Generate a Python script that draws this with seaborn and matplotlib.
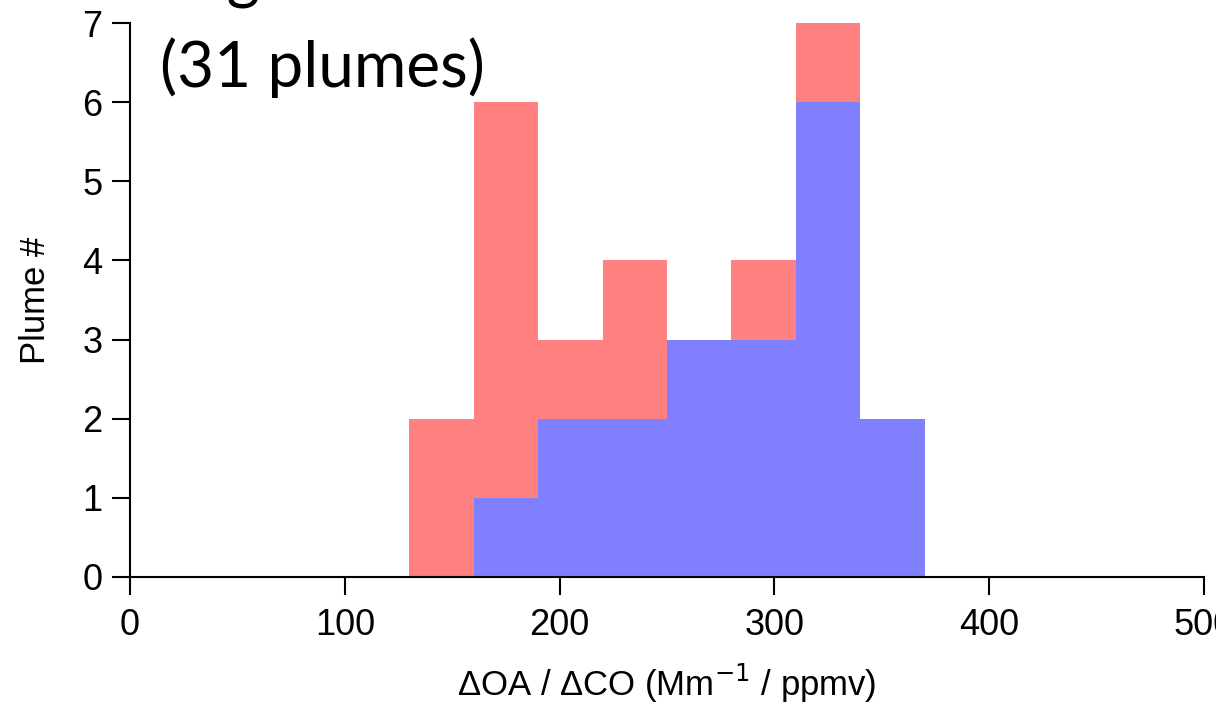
import numpy as np
import pandas as pd
import matplotlib
matplotlib.use("Agg")
import matplotlib.pyplot as plt
import seaborn as sns

# Data
bin_edges = [130, 160, 190, 220, 250, 280, 310, 340, 370]
bin_centers = [145, 175, 205, 235, 265, 295, 325, 355]
all_counts = [2, 6, 3, 4, 3, 4, 7, 2]      # red (all plumes)
sub_counts = [0, 1, 2, 2, 3, 3, 6, 2]      # blue subset
x_ticks = [0, 100, 200, 300, 400, 500]
y_ticks = [0, 1, 2, 3, 4, 5, 6, 7]
title_line1 = "Flight F008"
title_line2 = "(31 plumes)"

sns.set_style("ticks")
plt.rcParams['font.family'] = ['Liberation Sans', 'DejaVu Sans']

fig = plt.figure(figsize=(12.16, 7.11), dpi=100)
ax = fig.add_axes([0.107, 0.1885, 0.883, 0.779])

df_all = pd.DataFrame({"x": bin_centers, "w": all_counts})
df_sub = pd.DataFrame({"x": bin_centers, "w": sub_counts})

sns.histplot(data=df_all, x="x", weights="w", bins=bin_edges, ax=ax,
             color="#FF8080", alpha=1, edgecolor="none", linewidth=0)
sns.histplot(data=df_sub, x="x", weights="w", bins=bin_edges, ax=ax,
             color="#8080FF", alpha=1, edgecolor="none", linewidth=0)

ax.set_xlim(0, 500)
ax.set_ylim(0, 7)
ax.set_xticks(x_ticks)
ax.set_yticks(y_ticks)
ax.set_xticklabels([str(t) for t in x_ticks])
sns.despine(ax=ax)
for s in ["left", "bottom"]:
    ax.spines[s].set_linewidth(1.5)
    ax.spines[s].set_color("black")
ax.tick_params(axis="both", length=13, width=1.5, labelsize=26, colors="black")
ax.tick_params(axis="x", pad=9)
ax.tick_params(axis="y", pad=7)

ax.set_xlabel("ΔOA / ΔCO (Mm$^{-1}$ / ppmv)", fontsize=25, labelpad=14, color="black")
ax.set_ylabel("Plume #", fontsize=25, labelpad=22, color="black")

fig.text(160 / 1216, 1 - 87 / 711, title_line2, fontsize=46, family=['Lato', 'DejaVu Sans'],
         ha="left", va="baseline", color="black")
fig.text(160 / 1216, 1 + 3 / 711, title_line1, fontsize=46, family=['Lato', 'DejaVu Sans'],
         ha="left", va="baseline", color="black")

fig.savefig("out.png", dpi=100)
